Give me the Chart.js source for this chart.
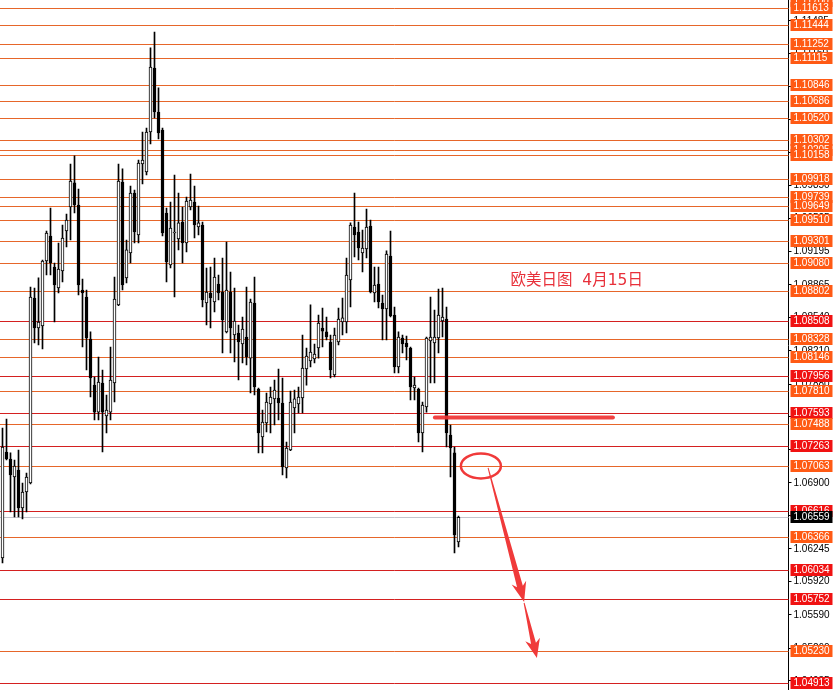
<!DOCTYPE html>
<html>
<head>
<meta charset="utf-8">
<script src="https://cdn.jsdelivr.net/npm/chart.js@4.4.1/dist/chart.umd.min.js"></script>
<style>
html, body { margin: 0; padding: 0; background: #fff; }
#wrap { width: 834px; height: 690px; position: relative; }
</style>
</head>
<body>
<div id="wrap"><canvas id="chart"></canvas></div>
<script>
// EURUSD daily candles
const openP = [1.06154,1.07206,1.07137,1.06958,1.07028,1.06651,1.06809,1.06899,1.08735,1.08437,
  1.08457,1.09102,1.09350,1.09043,1.08834,1.09003,1.09400,1.09638,1.09877,1.09658,
  1.08814,1.08745,1.08328,1.07871,1.07603,1.07891,1.07564,1.07603,1.07891,1.08666,
  1.09886,1.08934,1.09182,1.09777,1.09360,1.10065,1.09986,1.10383,1.11018,1.10581,
  1.10403,1.09579,1.09063,1.09380,1.09321,1.09489,1.09281,1.09638,1.09688,1.09440,
  1.09460,1.08685,1.08785,1.08695,1.08874,1.08795,1.08398,1.08795,1.08368,1.08388,
  1.08278,1.08348,1.08139,1.08685,1.07832,1.07355,1.07494,1.07683,1.07733,1.07742,
  1.07693,1.07048,1.07226,1.07643,1.07683,1.07742,1.08030,1.08110,1.08130,1.08239,
  1.08437,1.08398,1.08298,1.07971,1.08298,1.08497,1.08497,1.08914,1.09440,1.09390,
  1.09182,1.09221,1.09450,1.08785,1.08874,1.08685,1.08626,1.09152,1.08566,1.08050,
  1.08338,1.08288,1.08239,1.07842,1.07832,1.07395,1.07653,1.08308,1.08288,1.08338,
  1.08507,1.08527,1.07375,1.07197,1.06313];
const highP = [1.07445,1.07534,1.07197,1.07127,1.07226,1.06899,1.06998,1.08844,1.08834,1.08934,
  1.09112,1.09400,1.09628,1.09082,1.09281,1.09460,1.09569,1.10065,1.10145,1.09817,
  1.08924,1.08814,1.08398,1.07951,1.08149,1.08020,1.07772,1.08249,1.08943,1.10065,
  1.10016,1.09311,1.09847,1.09807,1.10105,1.10383,1.10422,1.11217,1.11375,1.10820,
  1.10422,1.09628,1.09688,1.09956,1.09777,1.09638,1.09738,1.09966,1.09847,1.09648,
  1.09489,1.09033,1.09043,1.09132,1.08963,1.09132,1.09291,1.08993,1.08834,1.08467,
  1.08546,1.08844,1.08725,1.08943,1.07842,1.07623,1.07792,1.07852,1.07921,1.08030,
  1.07941,1.07306,1.07812,1.07822,1.07852,1.08368,1.08239,1.08666,1.08278,1.08566,
  1.08636,1.08546,1.08368,1.08437,1.08636,1.08735,1.09132,1.09480,1.09777,1.09489,
  1.09410,1.09618,1.09509,1.09043,1.09043,1.08765,1.09202,1.09400,1.08646,1.08398,
  1.08368,1.08358,1.08249,1.07951,1.07842,1.07703,1.08348,1.08745,1.08616,1.08824,
  1.08834,1.08646,1.07474,1.07256,1.06571];
const lowP = [1.06105,1.07127,1.06611,1.06561,1.06561,1.06541,1.06611,1.06890,1.08288,1.08269,
  1.08229,1.08963,1.08963,1.08497,1.08785,1.08894,1.09241,1.09311,1.09579,1.08765,
  1.08249,1.08020,1.07752,1.07524,1.07524,1.07206,1.07395,1.07524,1.07703,1.08660,
  1.08814,1.08884,1.09082,1.09281,1.09281,1.09867,1.09956,1.10264,1.10522,1.10313,
  1.09350,1.08894,1.09033,1.08745,1.09212,1.09082,1.09192,1.09609,1.09331,1.09360,
  1.08646,1.08467,1.08437,1.08596,1.08715,1.08189,1.08388,1.08189,1.08100,1.07921,
  1.08090,1.08070,1.07792,1.07772,1.07197,1.07197,1.07405,1.07395,1.07474,1.07524,
  1.06978,1.06948,1.07220,1.07395,1.07594,1.07594,1.07871,1.08050,1.08090,1.08139,
  1.08249,1.08318,1.07941,1.07951,1.08269,1.08368,1.08388,1.08646,1.09142,1.09112,
  1.08993,1.09132,1.08785,1.08695,1.08636,1.08318,1.08318,1.08546,1.07991,1.07991,
  1.08189,1.08120,1.07723,1.07723,1.07306,1.07206,1.07603,1.07891,1.07891,1.08189,
  1.08348,1.07256,1.06958,1.06204,1.06263];
const closeP = [1.07256,1.07137,1.06978,1.07067,1.06651,1.06809,1.06958,1.08745,1.08437,1.08497,
  1.09102,1.09380,1.09082,1.08864,1.09023,1.09331,1.09509,1.09896,1.09658,1.08864,
  1.08785,1.08338,1.07941,1.07603,1.07901,1.07603,1.07623,1.07921,1.08725,1.09896,
  1.08864,1.09212,1.09777,1.09390,1.10075,1.10105,1.10383,1.11028,1.10581,1.10373,
  1.09380,1.09092,1.09430,1.09390,1.09480,1.09281,1.09698,1.09708,1.09460,1.09480,
  1.08715,1.08795,1.08735,1.08943,1.08785,1.08517,1.08814,1.08437,1.08507,1.08298,
  1.08427,1.08149,1.08695,1.07852,1.07395,1.07504,1.07703,1.07752,1.07822,1.07693,
  1.07058,1.07246,1.07703,1.07733,1.07752,1.08040,1.08159,1.08199,1.08179,1.08487,
  1.08407,1.08348,1.08020,1.08368,1.08527,1.08537,1.08963,1.09460,1.09360,1.09231,
  1.09231,1.09440,1.08795,1.08864,1.08695,1.08626,1.09172,1.08556,1.08050,1.08348,
  1.08278,1.08249,1.07852,1.07871,1.07395,1.07673,1.08338,1.08348,1.08348,1.08566,
  1.08546,1.07395,1.07246,1.06383,1.06559];

// horizontal levels drawn on the chart: o = orange, r = red
const levelPrices = [1.11700,1.11613,1.11444,1.11252,1.11115,1.10846,1.10686,1.10520,1.10302,1.10205,
  1.10158,1.09918,1.09739,1.09649,1.09510,1.09301,1.09080,1.08802,1.08508,1.08328,
  1.08146,1.07956,1.07810,1.07593,1.07488,1.07263,1.07063,1.06616,1.06366,1.06034,
  1.05752,1.05230,1.04913];
const levelKinds = ['o','o','o','o','o','o','o','o','o','o',
  'o','o','o','o','o','o','o','o','r','o',
  'o','r','o','r','o','r','o','r','o','r',
  'r','o','r'];

// price axis tick labels
const axisTicks = [1.11485,1.11160,1.10830,1.10505,1.10175,1.09850,1.09525,1.09195,1.08865,1.08540,
  1.08210,1.07880,1.07555,1.07230,1.06900,1.06575,1.06245,1.05920,1.05590,1.05260,1.04935];
const lastPrice = 1.06559;
const yMin = 1.04844, yMax = 1.11693;

// hand-drawn marks, in bar index / price
const noteText = '欧美日图  4月15日';
const noteAt = [127, 1.08905];
const markLine = [108.1, 152.6, 1.07550];
const circleAt = [119.6, 1.07068];
const arrow1 = [121.4, 1.07048, 130.4, 1.05718];
const arrow2 = [130.4, 1.05708, 133.6, 1.05162];

const slotCount = 197;
const slots = Array.from({ length: slotCount }, (_, i) => i);

const orangeLine = '#e6662a', redLine = '#d42020';
const orangeBox = '#ff5a14', redBox = '#f01212';
const markRed = '#f03a3a';

const bodies = openP.map((o, i) => [o, closeP[i]]);
const wicks = lowP.map((l, i) => [l, highP[i]]);
const bodyFill = openP.map((o, i) => closeP[i] >= o ? '#ffffff' : '#000000');

function drawArrow(ctx, x0, y0, x1, y1, w0, w1, headW, headL) {
  const dx = x1 - x0, dy = y1 - y0, len = Math.hypot(dx, dy);
  const ux = dx / len, uy = dy / len, nx = -uy, ny = ux;
  const bx = x1 - ux * headL, by = y1 - uy * headL;
  const nb = 4; // notch
  ctx.beginPath();
  ctx.moveTo(x0 + nx * w0 / 2, y0 + ny * w0 / 2);
  ctx.lineTo(bx + nx * w1 / 2 + ux * nb, by + ny * w1 / 2 + uy * nb);
  ctx.lineTo(bx + nx * headW / 2, by + ny * headW / 2);
  ctx.lineTo(x1, y1);
  ctx.lineTo(bx - nx * headW / 2, by - ny * headW / 2);
  ctx.lineTo(bx - nx * w1 / 2 + ux * nb, by - ny * w1 / 2 + uy * nb);
  ctx.lineTo(x0 - nx * w0 / 2, y0 - ny * w0 / 2);
  ctx.closePath();
  ctx.fill();
}

const levelsPlugin = {
  id: 'levels',
  beforeDatasetsDraw(chart) {
    const { ctx, chartArea: a, scales: { y } } = chart;
    ctx.save();
    ctx.lineWidth = 1;
    levelPrices.forEach((p, i) => {
      const py = Math.round(y.getPixelForValue(p)) + 0.5;
      ctx.strokeStyle = levelKinds[i] === 'r' ? redLine : orangeLine;
      ctx.beginPath();
      ctx.moveTo(0, py);
      ctx.lineTo(a.right, py);
      ctx.stroke();
    });
    const ly = Math.round(y.getPixelForValue(lastPrice)) + 0.5;
    ctx.strokeStyle = '#c4c4cc';
    ctx.beginPath();
    ctx.moveTo(0, ly);
    ctx.lineTo(a.right, ly);
    ctx.stroke();
    ctx.restore();
  },
  afterDatasetsDraw(chart) {
    const { ctx, scales: { x, y } } = chart;
    ctx.save();
    // note
    ctx.fillStyle = '#e8303a';
    ctx.font = '15.5px "DejaVu Sans", "Noto Sans CJK SC", sans-serif';
    ctx.textAlign = 'left';
    ctx.textBaseline = 'middle';
    ctx.fillText(noteText, x.getPixelForValue(noteAt[0]), y.getPixelForValue(noteAt[1]));
    // thick line
    ctx.strokeStyle = 'rgba(240,50,50,0.92)';
    ctx.lineWidth = 4;
    ctx.lineCap = 'round';
    const my = y.getPixelForValue(markLine[2]);
    ctx.beginPath();
    ctx.moveTo(x.getPixelForValue(markLine[0]), my);
    ctx.lineTo(x.getPixelForValue(markLine[1]), my);
    ctx.stroke();
    // circle
    ctx.strokeStyle = markRed;
    ctx.lineWidth = 2.5;
    ctx.beginPath();
    ctx.ellipse(x.getPixelForValue(circleAt[0]), y.getPixelForValue(circleAt[1]), 20, 12.5, 0, 0, Math.PI * 2);
    ctx.stroke();
    // arrows
    ctx.fillStyle = markRed;
    drawArrow(ctx, x.getPixelForValue(arrow1[0]), y.getPixelForValue(arrow1[1]),
      x.getPixelForValue(arrow1[2]), y.getPixelForValue(arrow1[3]), 1, 6, 15, 20);
    drawArrow(ctx, x.getPixelForValue(arrow2[0]), y.getPixelForValue(arrow2[1]),
      x.getPixelForValue(arrow2[2]), y.getPixelForValue(arrow2[3]), 1, 5, 15, 19);
    ctx.restore();
  },
  afterDraw(chart) {
    const { ctx, chartArea: a, scales: { y } } = chart;
    ctx.save();
    ctx.font = '10px "Liberation Sans", Arial, sans-serif';
    ctx.textAlign = 'left';
    ctx.textBaseline = 'middle';
    levelPrices.forEach((p, i) => {
      const py = Math.max(Math.round(y.getPixelForValue(p)), 1);
      ctx.fillStyle = levelKinds[i] === 'r' ? redBox : orangeBox;
      ctx.fillRect(a.right + 2, py - 6, 42, 12);
      ctx.fillStyle = '#ffffff';
      ctx.fillText(p.toFixed(5), a.right + 5, py + 0.5);
    });
    const ly = Math.round(y.getPixelForValue(lastPrice));
    ctx.fillStyle = '#000000';
    ctx.fillRect(a.right + 2, ly - 6, 42, 12);
    ctx.fillStyle = '#ffffff';
    ctx.fillText(lastPrice.toFixed(5), a.right + 5, ly + 0.5);
    ctx.restore();
  }
};

new Chart(document.getElementById('chart'), {
  type: 'bar',
  data: {
    labels: slots,
    datasets: [
      {
        data: bodies,
        backgroundColor: bodyFill,
        borderColor: '#000000',
        borderWidth: 1,
        borderSkipped: false,
        barThickness: 3,
        grouped: false
      },
      {
        data: wicks,
        backgroundColor: '#000000',
        borderWidth: 0,
        barThickness: 1,
        grouped: false
      }
    ]
  },
  options: {
    animation: false,
    responsive: true,
    maintainAspectRatio: false,
    layout: { padding: { left: 0.5, right: 0, top: 0, bottom: 0 } },
    plugins: { legend: { display: false }, tooltip: { enabled: false } },
    scales: {
      x: { display: false, offset: true },
      y: {
        position: 'right',
        min: yMin,
        max: yMax,
        afterFit(scale) {
          scale.width = 45.5;
          scale.paddingTop = 0;
          scale.paddingBottom = 0;
        },
        afterBuildTicks(scale) { scale.ticks = axisTicks.map(v => ({ value: v })); },
        ticks: {
          autoSkip: false,
          color: '#000000',
          padding: 2,
          font: { family: '"Liberation Sans", Arial, sans-serif', size: 10 },
          callback: v => v.toFixed(5)
        },
        grid: { drawOnChartArea: false, drawTicks: true, tickLength: 3, color: '#000000' },
        border: { color: '#000000', width: 1 }
      }
    }
  },
  plugins: [levelsPlugin]
});
</script>
</body>
</html>
